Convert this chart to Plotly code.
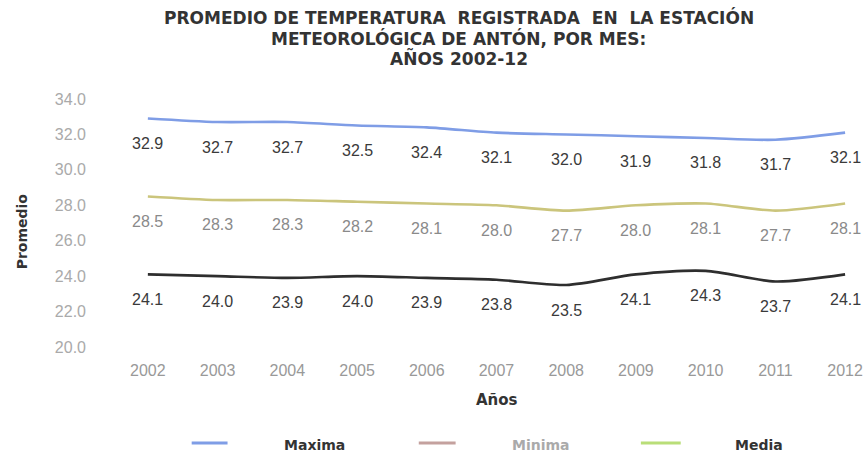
import plotly.graph_objects as go

years = [2002, 2003, 2004, 2005, 2006, 2007, 2008, 2009, 2010, 2011, 2012]
maxima = [32.9, 32.7, 32.7, 32.5, 32.4, 32.1, 32.0, 31.9, 31.8, 31.7, 32.1]
media = [28.5, 28.3, 28.3, 28.2, 28.1, 28.0, 27.7, 28.0, 28.1, 27.7, 28.1]
minima = [24.1, 24.0, 23.9, 24.0, 23.9, 23.8, 23.5, 24.1, 24.3, 23.7, 24.1]
y_ticks = [20, 22, 24, 26, 28, 30, 32, 34]

FONT = "Liberation Sans, Arial, sans-serif"
BOLD_FONT = "DejaVu Sans, Liberation Sans, sans-serif"

# plot area in pixels (used to place the title and the bottom legend)
L, R, T, B, W, H = 113, 5, 99, 106, 868, 453
PW, PH = W - L - R, H - T - B


def px_x(px):
    return (px - L) / PW


def px_y(py):
    return (H - B - py) / PH


series = [
    ("Maxima", maxima, "#7f9de6", "#3a3a3a", "#7f9de6"),
    ("Minima", minima, "#2e2e2e", "#3a3a3a", "#c4a19e"),
    ("Media", media, "#cbc57c", "#8a8a8a", "#b9de78"),
]

fig = go.Figure()
annotations = []
for name, vals, color, lab_color, _ in series:
    fig.add_trace(go.Scatter(
        x=years, y=vals, name=name, mode="lines",
        line=dict(color=color, width=2.6, shape="spline", smoothing=0.8),
        showlegend=False, hoverinfo="x+y",
    ))
    for x, v in zip(years, vals):
        annotations.append(dict(
            x=x, y=v, xref="x", yref="y", text=f"{v:.1f}", showarrow=False,
            yshift=-25, font=dict(family=FONT, size=16, color=lab_color),
        ))

# Title, one annotation per line
title_lines = [
    ("PROMEDIO DE TEMPERATURA  REGISTRADA  EN  LA ESTACIÓN", 17),
    ("METEOROLÓGICA DE ANTÓN, POR MES:", 38),
    ("AÑOS 2002-12", 58),
]
for txt, py in title_lines:
    annotations.append(dict(
        x=px_x(460), y=px_y(py), xref="paper", yref="paper",
        text=f"<b>{txt}</b>", showarrow=False, xanchor="center", yanchor="middle",
        font=dict(family=BOLD_FONT, size=17, color="#333333"),
    ))

# Legend drawn along the bottom: sample line + label
shapes = []
legend_items = [(192, 228, 315), (420, 457, 543), (643, 683, 762)]
for (x0, x1, tx), (name, _, _, _, lcol) in zip(legend_items, series):
    shapes.append(dict(type="line", xref="paper", yref="paper",
                       x0=px_x(x0), x1=px_x(x1), y0=px_y(443), y1=px_y(443),
                       line=dict(color=lcol, width=3)))
    annotations.append(dict(
        x=px_x(tx), y=px_y(445), xref="paper", yref="paper",
        text=f"<b>{name}</b>", showarrow=False, xanchor="center", yanchor="middle",
        font=dict(family=BOLD_FONT, size=14, color="#aaaaaa" if name == "Minima" else "#333333"),
    ))

# Axis titles
annotations.append(dict(
    x=px_x(499), y=px_y(400), xref="paper", yref="paper", text="<b>Años</b>",
    showarrow=False, xanchor="center", yanchor="middle",
    font=dict(family=BOLD_FONT, size=15, color="#333333"),
))
annotations.append(dict(
    x=px_x(22), y=px_y(231), xref="paper", yref="paper", text="<b>Promedio</b>",
    showarrow=False, xanchor="center", yanchor="middle", textangle=-90,
    font=dict(family=BOLD_FONT, size=14, color="#333333"),
))

fig.update_layout(
    width=W, height=H,
    margin=dict(l=L, r=R, t=T, b=B),
    paper_bgcolor="white", plot_bgcolor="white",
    font=dict(family=FONT, color="#999999"),
    xaxis=dict(
        range=[2001.5, 2012.214], tickmode="array", tickvals=years,
        ticktext=[str(y) for y in years], showgrid=False, zeroline=False,
        showline=False, tickfont=dict(size=16, color="#999999"), ticklabelstandoff=12,
    ),
    yaxis=dict(
        range=[20, 34], tickmode="array", tickvals=y_ticks,
        ticktext=[f"{t:.1f}" for t in y_ticks], showgrid=False, zeroline=False,
        showline=False, tickfont=dict(size=16, color="#aaaaaa"), ticklabelstandoff=26,
    ),
    annotations=annotations,
    shapes=shapes,
)

fig.write_html("out.html")
